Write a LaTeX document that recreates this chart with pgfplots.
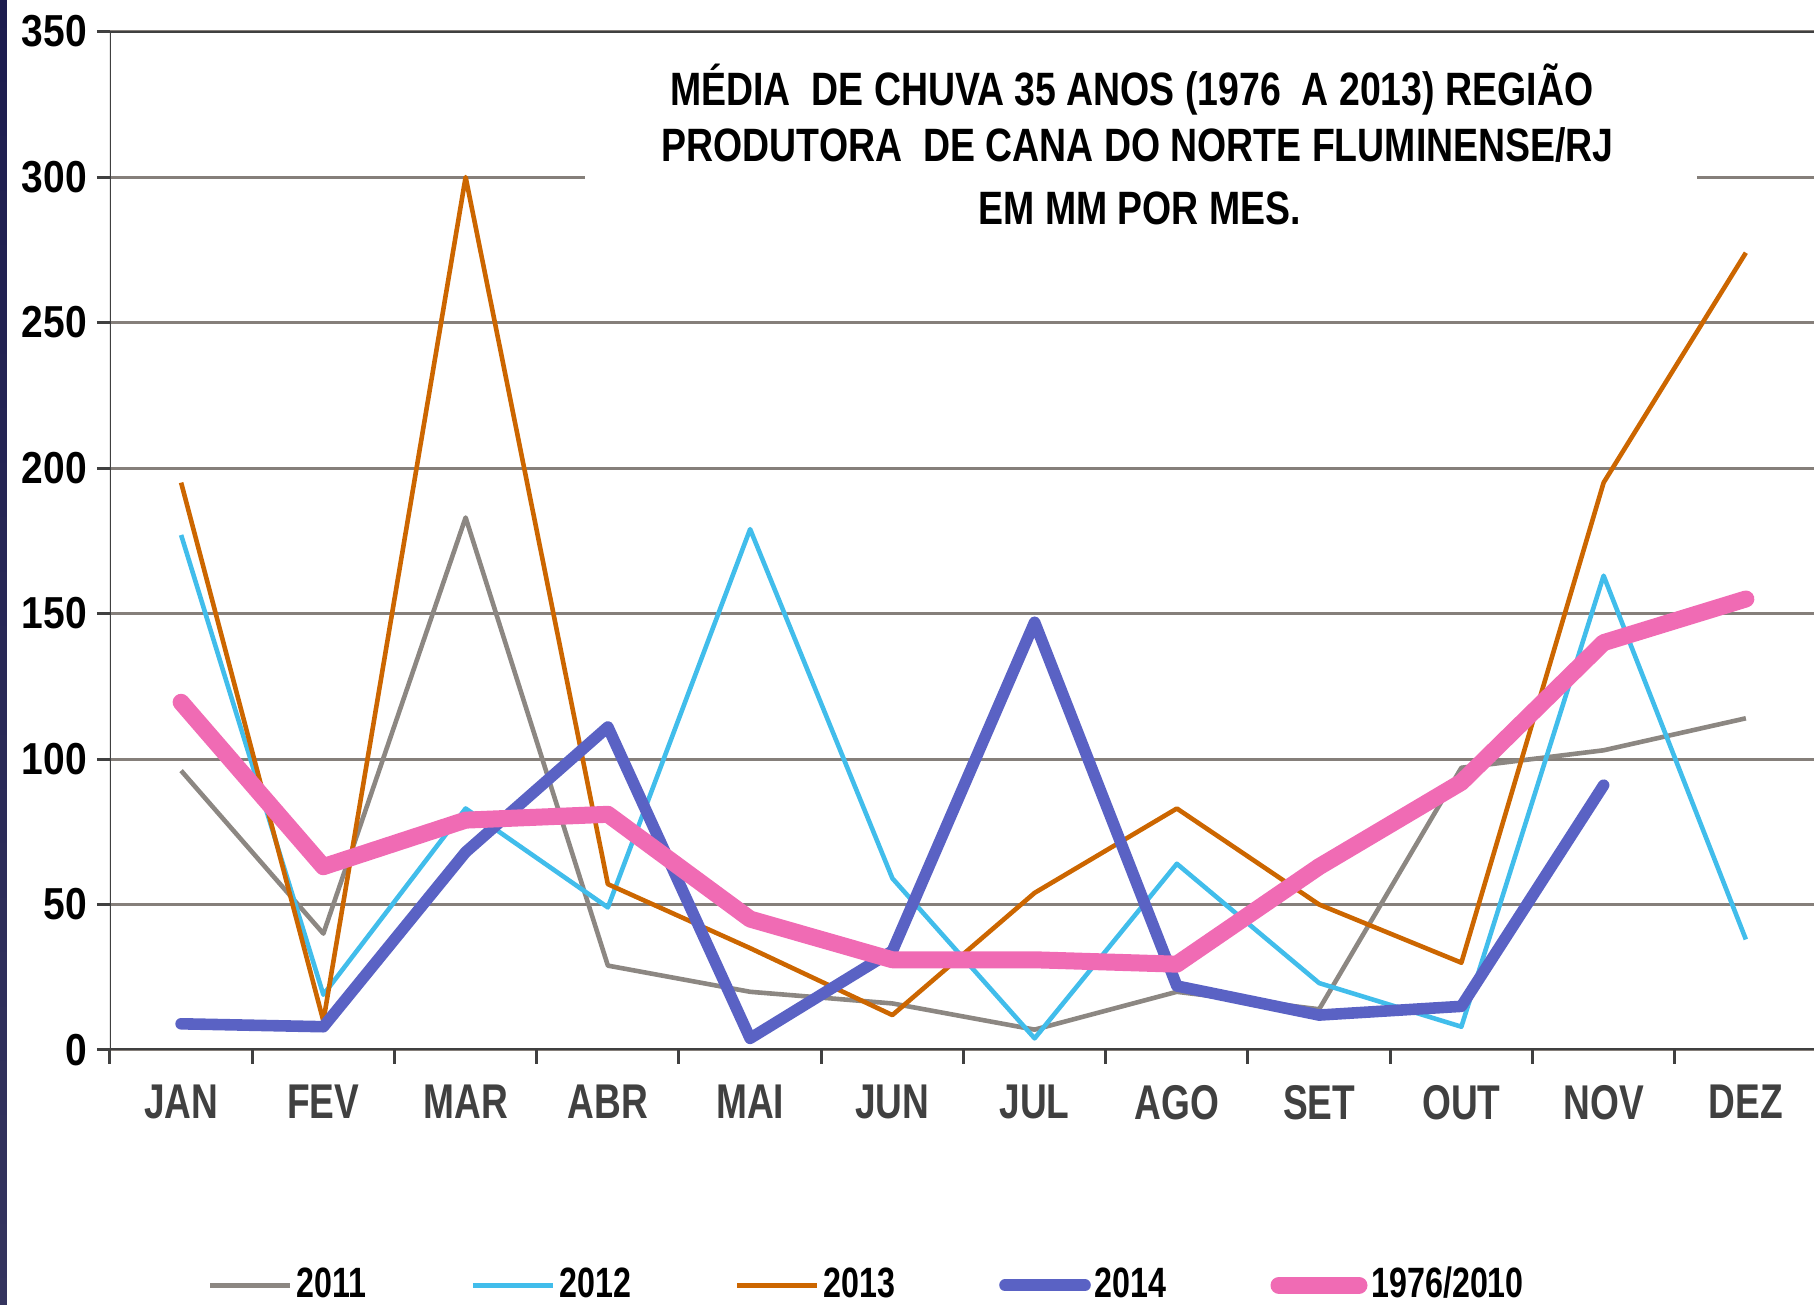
\documentclass[border=0pt]{standalone}
\usepackage{fontspec}
\setmainfont{Liberation Sans}
\newfontfamily\titlefont{Liberation Sans}[FakeStretch=0.8]
\newfontfamily\xfont{Liberation Sans}[FakeStretch=0.76]
\newfontfamily\yfont{Liberation Sans}[FakeStretch=0.87]
\usepackage{pgfplots}
\pgfplotsset{compat=1.18}
\definecolor{cA}{HTML}{8C8782}
\definecolor{cB}{HTML}{41BDEB}
\definecolor{cC}{HTML}{CC6600}
\definecolor{cD}{HTML}{5A62C4}
\definecolor{cE}{HTML}{F06BB4}
\definecolor{gridcol}{HTML}{857F7A}
\definecolor{axiscol}{HTML}{404040}
\definecolor{stripTop}{HTML}{1C1C4E}
\definecolor{stripBot}{HTML}{34345E}
\begin{document}
\begin{tikzpicture}
\begin{axis}[
  scale only axis, width=426.75pt, height=254.6pt,
  xmin=-0.5, xmax=11.5, ymin=0, ymax=350,
  axis line style={draw=none},
  tick align=outside, xtick pos=bottom, ytick pos=left,
  xtick={0,...,11},
  xticklabels={JAN,FEV,MAR,ABR,MAI,JUN,JUL,AGO,SET,OUT,NOV,DEZ},
  minor xtick={-0.5,0.5,...,11.5},
  major x tick style={draw=none},
  minor x tick style={draw=axiscol, line width=0.75pt},
  major y tick style={draw=axiscol, line width=0.75pt},
  major tick length=3.25pt, minor tick length=3.5pt,
  ytick={0,50,...,350},
  ymajorgrids, grid style={gridcol, line width=0.75pt},
  /pgf/number format/assume math mode=true,
  xticklabel style={font=\xfont\bfseries\fontsize{12.2}{14}\selectfont, text=axiscol, yshift=-2pt},
  yticklabel style={font=\yfont\bfseries\fontsize{11.2}{13}\selectfont, text=black, xshift=1pt},
  legend columns=5,
  legend cell align=left,
  legend image code/.code={\draw[#1] (0pt,0pt) -- (20pt,0pt);},
  legend style={draw=none, fill=none, at={(0.05,-0.231)}, anchor=west,
    font=\xfont\bfseries\fontsize{10.6}{12}\selectfont,
    nodes={inner sep=1pt},
    /tikz/every even column/.append style={column sep=25pt}},
]
\fill[white] (axis cs:2.839,281.5) rectangle (axis cs:10.654,340.7);
\addplot[cA, line width=1.15pt, line join=round] coordinates {(0,96) (1,40) (2,183) (3,29) (4,20) (5,16) (6,7) (7,20) (8,14) (9,97) (10,103) (11,114)};
\addlegendentry{2011}
\addplot[cB, line width=1.15pt, line join=round] coordinates {(0,177) (1,19) (2,83) (3,49) (4,179) (5,59) (6,4) (7,64) (8,23) (9,8) (10,163) (11,38)};
\addlegendentry{2012}
\addplot[cC, line width=1.15pt, line join=round] coordinates {(0,195) (1,10) (2,300) (3,57) (4,35) (5,12) (6,54) (7,83) (8,50) (9,30) (10,195) (11,274)};
\addlegendentry{2013}
\addplot[cD, line width=2.9pt, line join=round, line cap=round] coordinates {(0,9) (1,8) (2,68) (3,111) (4,4) (5,34) (6,147) (7,22) (8,12) (9,15) (10,91)};
\addlegendentry{2014}
\addplot[cE, line width=4.25pt, line join=round, line cap=round] coordinates {(0,119.5) (1,63) (2,79) (3,81) (4,45) (5,31) (6,31) (7,29.5) (8,63) (9,92) (10,140) (11,155)};
\addlegendentry{1976/2010}
\draw[axiscol, line width=0.75pt] (rel axis cs:0,1) -- (rel axis cs:0,0) -- (rel axis cs:1,0);
\draw[axiscol, line width=0.75pt] (rel axis cs:0,1) -- (rel axis cs:1,1);
\node[anchor=base, inner sep=0pt, font=\titlefont\bfseries\fontsize{11.7}{14}\selectfont] at (axis cs:6.683,324.7) {MÉDIA\ \ DE CHUVA 35 ANOS (1976\ \ A 2013) REGIÃO};
\node[anchor=base, inner sep=0pt, font=\titlefont\bfseries\fontsize{11.7}{14}\selectfont] at (axis cs:6.725,305.2) {PRODUTORA\ \ DE CANA DO NORTE FLUMINENSE/RJ};
\node[anchor=base, inner sep=0pt, font=\titlefont\bfseries\fontsize{11.7}{14}\selectfont] at (axis cs:6.739,283.7) {EM MM POR MES.};
\end{axis}
\shade[top color=stripTop, bottom color=stripBot] ([xshift=-27.5pt,yshift=-63.75pt]current axis.south west) rectangle ([xshift=-25.75pt,yshift=7.9pt]current axis.north west);
\pgfresetboundingbox
\path[use as bounding box] ([xshift=-27.5pt,yshift=-63.75pt]current axis.south west) rectangle ([xshift=-0.75pt,yshift=7.9pt]current axis.north east);
\end{tikzpicture}
\end{document}
